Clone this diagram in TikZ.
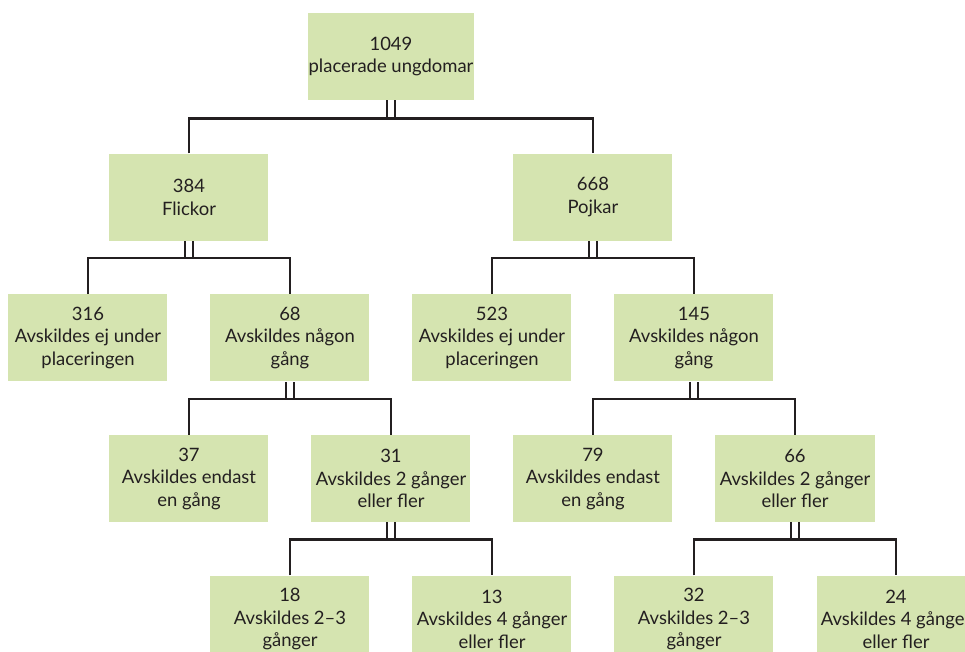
\documentclass[tikz,border=0pt]{standalone}
\usepackage{fontspec}
\setmainfont{Lato}
\usetikzlibrary{positioning}
\definecolor{boxgreen}{RGB}{213,228,176}
\definecolor{linegray}{RGB}{35,31,32}

\begin{document}
\begin{tikzpicture}[
    node distance=1.06cm,
    every node/.style={font=\fontsize{10.5}{12.8}\selectfont, text=linegray},
    countbox/.style={rectangle, fill=boxgreen, align=center, inner sep=0pt, minimum width=3.18cm, minimum height=1.74cm},
    link/.style={draw=linegray, line width=0.05cm}
]

\useasboundingbox (-7.82,1.13) rectangle (11.48,-11.91);

\node[countbox, minimum width=3.32cm] (root) {1049\\placerade ungdomar};

\node[countbox, below=of root, xshift=-4.04cm] (flickor) {384\\Flickor};
\node[countbox, below=of root, xshift=4.04cm] (pojkar) {668\\Pojkar};

\node[countbox, below=of flickor, xshift=-2.02cm] (fej) {316\\Avskildes ej under\\placeringen};
\node[countbox, below=of flickor, xshift=2.02cm] (fnagon) {68\\Avskildes någon\\gång};
\node[countbox, below=of pojkar, xshift=-2.02cm] (pej) {523\\Avskildes ej under\\placeringen};
\node[countbox, below=of pojkar, xshift=2.02cm] (pnagon) {145\\Avskildes någon\\gång};

\node[countbox, below=of fnagon, xshift=-2.02cm] (fen) {37\\Avskildes endast\\en gång};
\node[countbox, below=of fnagon, xshift=2.02cm] (ffler) {31\\Avskildes 2 gånger\\eller fler};
\node[countbox, below=of pnagon, xshift=-2.02cm] (pen) {79\\Avskildes endast\\en gång};
\node[countbox, below=of pnagon, xshift=2.02cm] (pfler) {66\\Avskildes 2 gånger\\eller fler};

\node[countbox, below=of ffler, xshift=-2.02cm] (ftva) {18\\Avskildes 2--3\\gånger};
\node[countbox, below=of ffler, xshift=2.02cm] (ffyra) {13\\Avskildes 4 gånger\\eller fler};
\node[countbox, below=of pfler, xshift=-2.02cm] (ptva) {32\\Avskildes 2--3\\gånger};
\node[countbox, below=of pfler, xshift=2.02cm] (pfyra) {24\\Avskildes 4 gånger\\eller fler};

\draw[link] (flickor.north) |- ([xshift=0.08cm, yshift=-0.36cm]root.south) -- ([xshift=0.08cm]root.south);
\draw[link] ([xshift=-0.08cm]root.south) -- ++(0,-0.36) -| (pojkar.north);

\draw[link] (fej.north) |- ([xshift=0.08cm, yshift=-0.34cm]flickor.south) -- ([xshift=0.08cm]flickor.south);
\draw[link] ([xshift=-0.08cm]flickor.south) -- ++(0,-0.34) -| (fnagon.north);
\draw[link] (pej.north) |- ([xshift=0.08cm, yshift=-0.34cm]pojkar.south) -- ([xshift=0.08cm]pojkar.south);
\draw[link] ([xshift=-0.08cm]pojkar.south) -- ++(0,-0.34) -| (pnagon.north);

\draw[link] (fen.north) |- ([xshift=0.08cm, yshift=-0.34cm]fnagon.south) -- ([xshift=0.08cm]fnagon.south);
\draw[link] ([xshift=-0.08cm]fnagon.south) -- ++(0,-0.34) -| (ffler.north);
\draw[link] (pen.north) |- ([xshift=0.08cm, yshift=-0.34cm]pnagon.south) -- ([xshift=0.08cm]pnagon.south);
\draw[link] ([xshift=-0.08cm]pnagon.south) -- ++(0,-0.34) -| (pfler.north);

\draw[link] (ftva.north) |- ([xshift=0.08cm, yshift=-0.34cm]ffler.south) -- ([xshift=0.08cm]ffler.south);
\draw[link] ([xshift=-0.08cm]ffler.south) -- ++(0,-0.34) -| (ffyra.north);
\draw[link] (ptva.north) |- ([xshift=0.08cm, yshift=-0.34cm]pfler.south) -- ([xshift=0.08cm]pfler.south);
\draw[link] ([xshift=-0.08cm]pfler.south) -- ++(0,-0.34) -| (pfyra.north);

\end{tikzpicture}
\end{document}
